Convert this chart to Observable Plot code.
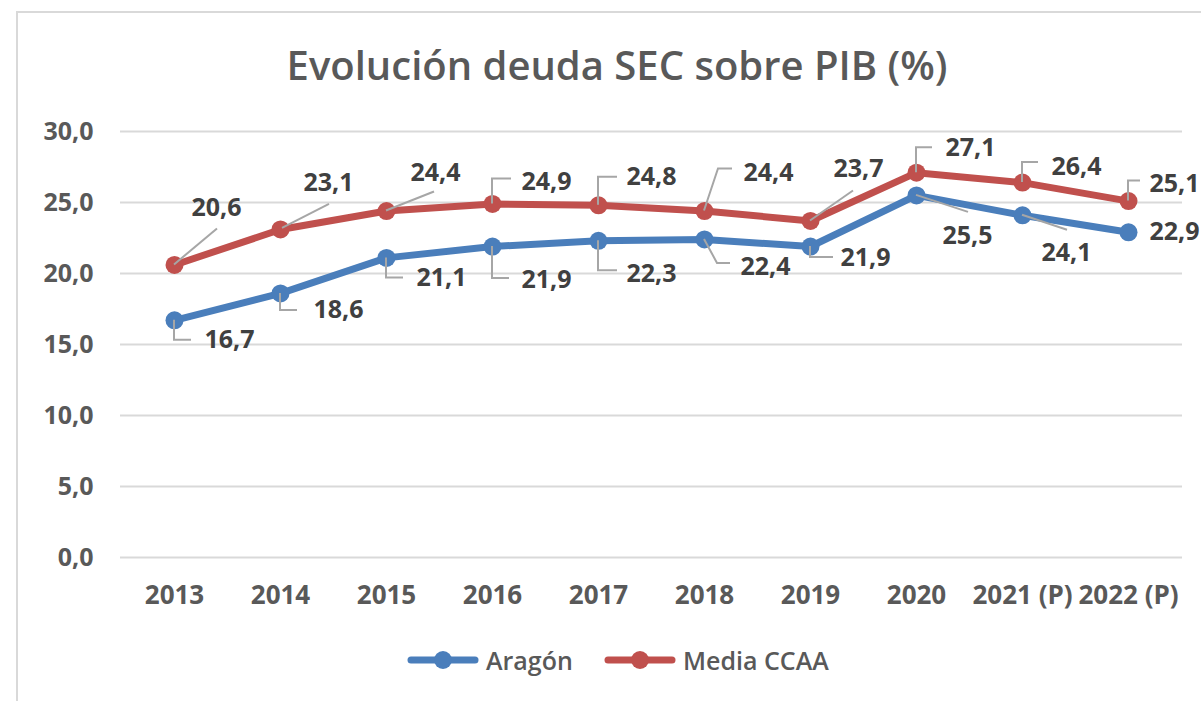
<!DOCTYPE html>
<html><head><meta charset="utf-8">
<script src="https://cdn.jsdelivr.net/npm/d3@7"></script>
<script src="https://cdn.jsdelivr.net/npm/@observablehq/plot@0.6"></script>
<style>
body{margin:0;background:#fff;font-family:"Open Sans",sans-serif;}
#wrap{position:relative;width:1201px;height:701px;overflow:hidden;background:#fff;}
#frame{position:absolute;left:16px;top:11px;width:1300px;height:800px;border-left:2px solid #d9d9d9;border-top:2px solid #d9d9d9;}
#title{position:absolute;left:0;width:1234px;top:46px;line-height:38px;text-align:center;font-size:40px;font-weight:600;color:#595959;white-space:nowrap;}
#chart{position:absolute;left:0;top:0;}
.leg{position:absolute;top:645px;height:30px;display:flex;align-items:center;font-size:25px;font-weight:600;color:#595959;}
.leg svg{margin-right:6px;}
</style></head>
<body><div id="wrap"><div id="frame"></div><div id="chart"></div>
<div id="title">Evolución deuda SEC sobre PIB (%)</div>
<div id="legend"></div>
</div>
<script>
const years = ["2013","2014","2015","2016","2017","2018","2019","2020","2021 (P)","2022 (P)"];
const seriesNames = ["Aragón","Media CCAA"];
const aragon = [16.7,18.6,21.1,21.9,22.3,22.4,21.9,25.5,24.1,22.9];
const media = [20.6,23.1,24.4,24.9,24.8,24.4,23.7,27.1,26.4,25.1];
const yTicks = [0,5,10,15,20,25,30];
const colors = ["#4a7ebb","#c0504d"];

// label layout (pixel offsets from each point) — styling only
const mediaLabelOff = [[42,-57],[48,-46],[49,-38],[54,-22],[53,-28],[64,-38],[48,-52],[54,-25],[54,-16],[46,-17]];
const aragonLabelOff = [[55,20],[58,17],[55,20],[54,33],[53,33],[61,28],[55,11],[51,41],[44,38],[46,0]];
const mediaLeader = [[[0,0],[43,-36]],[[2,-1],[49,-25]],[[0,0],[48,-19]],[[0,0],[0,-25],[19,-25]],[[0,0],[0,-28],[19,-28]],[[0,0],[14,-42],[28,-42]],[[0,0],[43,-30]],[[0,0],[0,-25],[16,-25]],[[0,0],[0,-20],[16,-20]],[[0,0],[0,-20],[12,-20]]];
const aragonLeader = [[[0,0],[0,20],[17,20]],[[0,0],[0,17],[17,17]],[[0,0],[0,20],[17,20]],[[0,0],[0,32],[17,32]],[[0,0],[0,30],[19,30]],[[0,0],[13,24],[26,24]],[[0,0],[0,11],[23,11]],[[0,0],[52,17]],[[0,0],[45,15]],null];

const fmt = v => v.toFixed(1).replace(".", ",");
const rows = [
  ...years.map((y,i)=>({year:y, value:aragon[i], series:seriesNames[0], off:aragonLabelOff[i], leader:aragonLeader[i]})),
  ...years.map((y,i)=>({year:y, value:media[i], series:seriesNames[1], off:mediaLabelOff[i], leader:mediaLeader[i]}))
];

const leaderMark = (index, scales) => {
  const g = d3.create("svg:g").attr("fill","none").attr("stroke","#a6a6a6").attr("stroke-width",2);
  for (const r of rows) {
    if (!r.leader) continue;
    const x0 = scales.x(r.year), y0 = scales.y(r.value);
    g.append("path").attr("d", d3.line()(r.leader.map(([dx,dy])=>[x0+dx,y0+dy])));
  }
  return g.node();
};

const labelMarks = rows.map(r => Plot.text([r], {x:"year", y:"value", text: d=>fmt(d.value), dx:r.off[0], dy:r.off[1], fill:"#404040", fontSize:25, fontWeight:700, textAnchor:"middle"}));

const chart = Plot.plot({
  width:1201, height:640,
  marginLeft:120, marginRight:19, marginTop:131, marginBottom:83,
  x:{type:"point", domain:years, padding:0.5},
  y:{domain:[0,30]},
  color:{domain:seriesNames, range:colors},
  style:{fontFamily:"'Open Sans', sans-serif", fontSize:"25px", fontWeight:"700", color:"#595959", background:"transparent", overflow:"visible"},
  marks:[
    Plot.ruleY(yTicks, {stroke:"#d9d9d9", strokeWidth:2}),
    Plot.axisY(yTicks, {tickSize:0, tickPadding:27, tickFormat:fmt, label:null}),
    Plot.axisX({tickSize:0, tickPadding:28, label:null, fontSize:26}),
    Plot.line(rows, {x:"year", y:"value", z:"series", stroke:"series", strokeWidth:7, strokeLinejoin:"round", strokeLinecap:"round"}),
    Plot.dot(rows, {x:"year", y:"value", fill:"series", r:9}),
    leaderMark,
    ...labelMarks
  ]
});
document.getElementById("chart").appendChild(chart);

const legend = document.getElementById("legend");
const legLeft = [406, 603];
seriesNames.forEach((name,i)=>{
  const d = document.createElement("div");
  d.className = "leg";
  d.style.left = legLeft[i] + "px";
  d.innerHTML = `<svg width="74" height="24"><line x1="5" y1="12" x2="69" y2="12" stroke="${colors[i]}" stroke-width="7" stroke-linecap="round"/><circle cx="37" cy="12" r="9" fill="${colors[i]}"/></svg><span>${name}</span>`;
  legend.appendChild(d);
});
</script>
</body></html>
